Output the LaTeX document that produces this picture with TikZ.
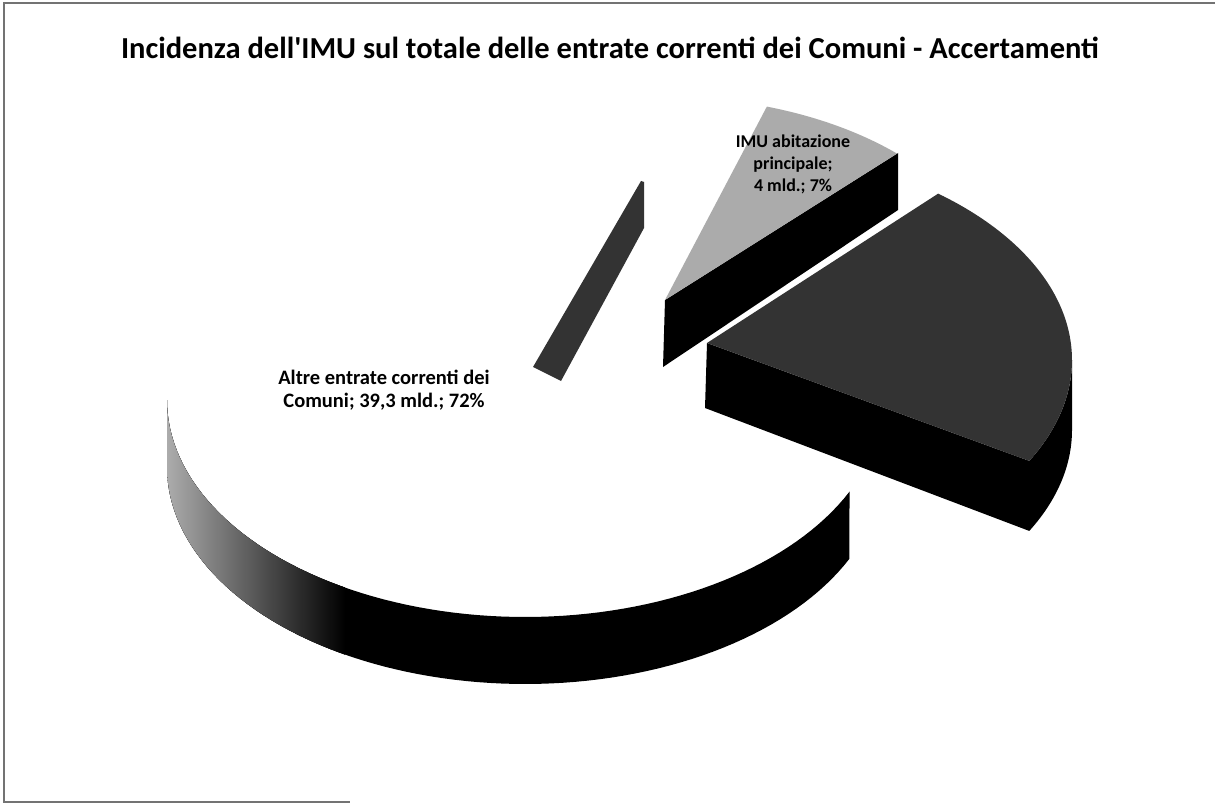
\documentclass[tikz,border=0pt]{standalone}
\usepackage{fontspec}
\setmainfont{Carlito}
\begin{document}
\begin{tikzpicture}[x=1pt,y=-1pt,
  framestyle/.style={draw=black!55,line width=1.2pt},
  sideface/.style={fill=black},
  lightslice/.style={fill=black!33},
  darkslice/.style={fill=black!80},
  cutface/.style={fill=black!80},
  labeltext/.style={font=\bfseries\fontsize{20.5}{23}\selectfont,align=center,inner sep=0pt},
  smalllabel/.style={font=\bfseries\fontsize{18}{22}\selectfont,align=center,inner sep=0pt}]
\useasboundingbox (0,0) rectangle (1215,805);
\fill[white] (0,0) rectangle (1215,805);
% ---- white slice (72%): outer side band
\def\bandpath{(849.5,491.7) -- plot[domain=25:180,samples=80] ({525+358*cos(\x)},{400+217*sin(\x)}) -- plot[domain=180:25,samples=80] ({525+358*cos(\x)},{467+217*sin(\x)}) -- cycle}
\fill[sideface] \bandpath;
\begin{scope}
  \clip \bandpath;
  \fill[left color=black!30,right color=black] (160,380) rectangle (345,720);
\end{scope}
% ---- white slice radial cut face
\fill[cutface] (533,367) -- (641,181) -- (644,182) -- (644,228) -- (561,381) -- cycle;
% ---- light grey slice (7%)
\fill[sideface] (665,300) -- (898,153) -- (898,210) -- (663,367) -- cycle;
\fill[lightslice] (665,300) -- plot[domain=-72.3:-46.1,samples=30] ({665+335*cos(\x)},{300+203*sin(\x)}) -- (898,153) -- cycle;
% ---- dark slice (21%)
\fill[sideface] (707,343) -- (1029.3,460.9)
   -- plot[domain=28:0,samples=30] ({707+365*cos(\x)},{360+215*sin(\x)})
   -- plot[domain=0:28,samples=30] ({707+365*cos(\x)},{430+215*sin(\x)})
   -- (705,408) -- cycle;
\fill[darkslice] (707,343) -- plot[domain=-50.7:28,samples=80] ({707+365*cos(\x)},{360+215*sin(\x)}) -- cycle;
% ---- labels
\node[labeltext] (altre) at (384,390) {Altre entrate correnti dei\\Comuni; 39,3 mld.; 72\%};
\node[smalllabel] (imuab) at (793,164) {IMU abitazione\\principale;\\4 mld.; 7\%};
% ---- title
\node[font=\bfseries\fontsize{30.5}{34}\selectfont,inner sep=0pt] (title) at (610,48) {Incidenza dell\textquotesingle IMU sul totale delle entrate correnti dei Comuni - Accertamenti};
% ---- frame
\coordinate (ftl) at (4,3);
\coordinate (ftr) at (1215,3);
\coordinate (fbl) at (4,802);
\coordinate (fbr) at (350,802);
\draw[framestyle] (ftr) -- (ftl) -- (fbl) -- (fbr);
\end{tikzpicture}
\end{document}
